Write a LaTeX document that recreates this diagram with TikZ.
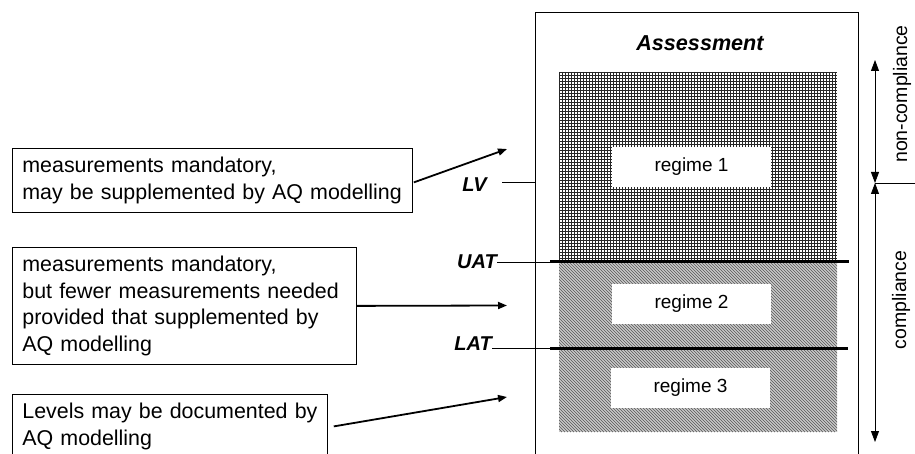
\documentclass[tikz,border=0pt]{standalone}
\usepackage{fontspec}
\setmainfont{Liberation Sans}
\usetikzlibrary{arrows.meta}
\tikzset{
  x=1pt, y=-1pt,
  txtbox/.style={draw, line width=0.8pt, align=left, inner xsep=10pt, inner ysep=0pt,
    font=\fontsize{21.4}{26.7}\selectfont},
  regbox/.style={fill=white, inner sep=0pt, minimum width=159pt, minimum height=40pt,
    font=\fontsize{19}{22}\selectfont},
  lvl/.style={inner sep=0pt, anchor=east, font=\fontsize{20}{24}\selectfont\bfseries\itshape},
  thinl/.style={line width=0.8pt},
  thickl/.style={line width=3pt},
  bigarrow/.style={line width=1.8pt, -{Triangle[length=9pt,width=7pt]}},
  sidearrow/.style={line width=0.8pt, {Triangle[length=11pt,width=8pt]}-{Triangle[length=11pt,width=8pt]}},
  sidelabel/.style={rotate=90, inner sep=0pt, font=\fontsize{19.5}{23}\selectfont},
}
\begin{document}
\begin{tikzpicture}
\useasboundingbox (0,0) rectangle (915,454);
\begin{scope}
\clip (0,0) rectangle (915,454);
% outer assessment box
\draw[thinl] (535,470) -- (535,12) -- (858,12) -- (858,470);
\node[font=\fontsize{21.6}{26}\selectfont\bfseries\itshape] (ass) at (700,43) {Assessment};
% regime 1 grid hatch
\fill[white] (559,72) rectangle (837,262);
\begin{scope}
\clip (559,72) rectangle (837,262);
\foreach \i in {0,...,93} { \draw[line width=0.85pt, black!85] (559+3*\i,72) -- (559+3*\i,262); }
\foreach \j in {0,...,64} { \draw[line width=0.85pt, black!85] (559,72+3*\j) -- (837,72+3*\j); }
\end{scope}
% regime 2/3 diagonal hatch
\fill[black!15] (559,262) rectangle (837,432);
\begin{scope}
\clip (559,262) rectangle (837,432);
\foreach \i in {0,...,150} { \draw[line width=0.85pt, black!58] (389+3*\i,262) -- (559+3*\i,432); }
\end{scope}
% regime labels
\node[regbox] (r1) at (691.5,167) {regime 1};
\node[regbox] (r2) at (691.5,303.5) {regime 2};
\node[regbox] (r3) at (690.5,387.5) {regime 3};
% threshold labels and lines
\node[lvl] (lv) at (487,185) {LV};
\node[lvl] (uat) at (497,262) {UAT};
\node[lvl] (lat) at (492,344) {LAT};
\coordinate (lvs) at (502,182);
\coordinate (lve) at (535,182);
\coordinate (uats) at (550,262);
\coordinate (uate) at (849,262);
\coordinate (lats) at (550,348);
\coordinate (late) at (848,348);
\draw[thinl] (lvs) -- (lve);
\draw[thinl] (uat.east) -- (uats);
\draw[thinl] (lat.east |- lats) -- (lats);
\draw[thickl] (uats) -- (uate);
\draw[thickl] (lats) -- (late);
% text boxes
\node[txtbox, minimum width=400pt, minimum height=64pt, text width=380pt, anchor=north west] (b1) at (12,148)
  {\mbox{measurements mandatory,}\\\mbox{may be supplemented by AQ modelling}};
\node[txtbox, minimum width=344pt, minimum height=117pt, text width=324pt, anchor=north west] (b2) at (12,247)
  {\mbox{measurements mandatory,}\\\mbox{but fewer measurements needed}\\\mbox{provided that supplemented by}\\\mbox{AQ modelling}};
\node[txtbox, minimum width=315pt, minimum height=64pt, text width=295pt, anchor=north west] (b3) at (12,394)
  {\mbox{Levels may be documented by}\\\mbox{AQ modelling}};
% arrows from boxes
\coordinate (a1) at (507,149);
\coordinate (a2) at (507,305.5);
\coordinate (a3) at (507,397);
\draw[bigarrow] ([xshift=1pt,yshift=-2pt]b1.east) -- (a1);
\draw[bigarrow] (b2.east) -- (a2);
\draw[bigarrow] ([xshift=6pt]b3.east) -- (a3);
% compliance side arrows
\coordinate (nct) at (875,60);
\coordinate (mid) at (875,183);
\coordinate (midr) at (920,183);
\coordinate (cb) at (875,442);
\draw[sidearrow] (nct) -- (mid);
\draw[sidearrow] (mid) -- (cb);
\draw[thinl] (mid) -- (midr);
\node[sidelabel] (nc) at (902,94) {non-compliance};
\node[sidelabel] (co) at (901,300) {compliance};
\end{scope}
\end{tikzpicture}
\end{document}
